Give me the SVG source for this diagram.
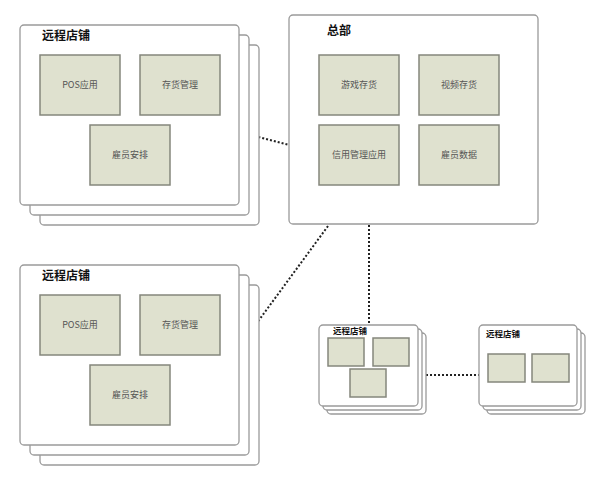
<svg xmlns="http://www.w3.org/2000/svg" width="597" height="480" viewBox="0 0 597 480">
<style>
.bg{fill:#fff}
.card{fill:#fff;stroke:#9a9a9a;stroke-width:1.3}
.box{fill:#dfe1cf;stroke:#85877c;stroke-width:1.5}
.title{font-family:"Noto Sans CJK SC","Liberation Sans",sans-serif;font-weight:bold;fill:#111}
.lbl{font-family:"Noto Sans CJK SC","Liberation Sans",sans-serif;fill:#555;font-size:9px;text-anchor:middle}
.conn{stroke:#222;stroke-width:2;stroke-dasharray:2 2;fill:none}
</style>
<rect class="bg" x="0" y="0" width="597" height="480"/>
<g id="connectors">
<line class="conn" x1="239" y1="132" x2="289" y2="145"/>
<line class="conn" x1="328" y1="226" x2="240" y2="346"/>
<line class="conn" x1="369" y1="225" x2="369" y2="325"/>
<line class="conn" x1="426" y1="375" x2="479" y2="375"/>
</g>
<g id="store1">
<rect class="card" x="40" y="45" width="219" height="180" rx="4"/>
<rect class="card" x="30" y="35" width="219" height="180" rx="4"/>
<rect class="card" x="20" y="25" width="219" height="180" rx="4"/>
<text class="title" x="42" y="40" font-size="12">远程店铺</text>
<rect class="box" x="40" y="55" width="80" height="60"/>
<text class="lbl" x="80" y="88">POS应用</text>
<rect class="box" x="140" y="55" width="80" height="60"/>
<text class="lbl" x="180" y="88">存货管理</text>
<rect class="box" x="90" y="125" width="80" height="60"/>
<text class="lbl" x="130" y="158">雇员安排</text>
</g>
<g id="hq">
<rect class="card" x="289" y="15" width="249" height="209" rx="4"/>
<text class="title" x="327" y="35" font-size="12">总部</text>
<rect class="box" x="319" y="55" width="80" height="60"/>
<text class="lbl" x="359" y="88">游戏存货</text>
<rect class="box" x="419" y="55" width="80" height="60"/>
<text class="lbl" x="459" y="88">视频存货</text>
<rect class="box" x="319" y="125" width="80" height="60"/>
<text class="lbl" x="359" y="158">信用管理应用</text>
<rect class="box" x="419" y="125" width="80" height="60"/>
<text class="lbl" x="459" y="158">雇员数据</text>
</g>
<g id="store2">
<rect class="card" x="40" y="285" width="219" height="180" rx="4"/>
<rect class="card" x="30" y="275" width="219" height="180" rx="4"/>
<rect class="card" x="20" y="265" width="219" height="180" rx="4"/>
<text class="title" x="42" y="280" font-size="12">远程店铺</text>
<rect class="box" x="40" y="295" width="80" height="60"/>
<text class="lbl" x="80" y="328">POS应用</text>
<rect class="box" x="140" y="295" width="80" height="60"/>
<text class="lbl" x="180" y="328">存货管理</text>
<rect class="box" x="90" y="365" width="80" height="60"/>
<text class="lbl" x="130" y="398">雇员安排</text>
</g>
<g id="store3">
<rect class="card" x="327" y="333" width="99" height="81" rx="4"/>
<rect class="card" x="323" y="329" width="99" height="81" rx="4"/>
<rect class="card" x="319" y="325" width="99" height="81" rx="4"/>
<text class="title" x="333" y="334" font-size="8.5">远程店铺</text>
<rect class="box" x="328" y="338" width="36" height="28"/>
<rect class="box" x="373" y="338" width="36" height="28"/>
<rect class="box" x="350" y="369" width="36" height="28"/>
</g>
<g id="store4">
<rect class="card" x="487" y="333" width="98" height="81" rx="4"/>
<rect class="card" x="483" y="329" width="98" height="81" rx="4"/>
<rect class="card" x="479" y="325" width="98" height="81" rx="4"/>
<text class="title" x="486" y="337" font-size="8.5">远程店铺</text>
<rect class="box" x="488" y="354" width="37" height="28"/>
<rect class="box" x="532" y="354" width="37" height="28"/>
</g>
</svg>
